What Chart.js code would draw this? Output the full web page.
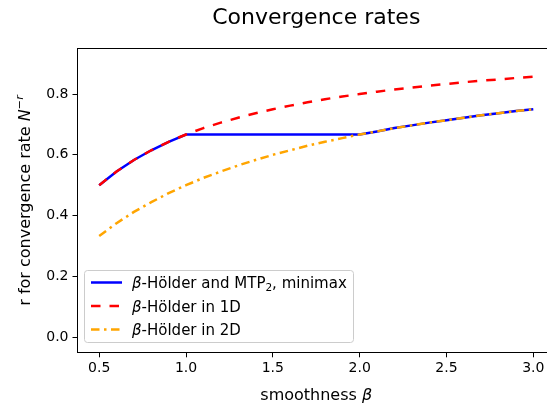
<!DOCTYPE html>
<html>
<head>
<meta charset="utf-8">
<script src="https://cdn.jsdelivr.net/npm/chart.js@4.4.1/dist/chart.umd.min.js"></script>
<style>
  html, body { margin: 0; padding: 0; background: #fff; overflow: hidden; }
  #wrap { width: 547px; height: 406px; overflow: hidden; }
</style>
</head>
<body>
<div id="wrap"><canvas id="chart" width="560" height="406"></canvas></div>
<script>
// smoothness values along the x axis
const betas = [0.5, 0.6, 0.7, 0.8, 0.9, 1.0, 1.1, 1.2, 1.3, 1.4, 1.5, 1.6, 1.7,
  1.8, 1.9, 2.0, 2.1, 2.2, 2.3, 2.4, 2.5, 2.6, 2.7, 2.8, 2.9, 3.0];

// rates
const minimaxRate = [0.500, 0.545, 0.583, 0.615, 0.643, 0.667, 0.667, 0.667, 0.667,
  0.667, 0.667, 0.667, 0.667, 0.667, 0.667, 0.667, 0.677, 0.688, 0.697, 0.706,
  0.714, 0.722, 0.730, 0.737, 0.744, 0.750];
const holder1D = [0.500, 0.545, 0.583, 0.615, 0.643, 0.667, 0.688, 0.706, 0.722,
  0.737, 0.750, 0.762, 0.773, 0.783, 0.792, 0.800, 0.808, 0.815, 0.821, 0.828,
  0.833, 0.839, 0.844, 0.848, 0.853, 0.857];
const holder2D = [0.333, 0.375, 0.412, 0.444, 0.474, 0.500, 0.524, 0.545, 0.565,
  0.583, 0.600, 0.615, 0.630, 0.643, 0.655, 0.667, 0.677, 0.688, 0.697, 0.706,
  0.714, 0.722, 0.730, 0.737, 0.744, 0.750];

const xTicks = [0.5, 1.0, 1.5, 2.0, 2.5, 3.0];
const yTicks = [0.0, 0.2, 0.4, 0.6, 0.8];

const FONT = '"DejaVu Sans"';
const toPoints = (ys) => betas.map((b, i) => ({ x: b, y: ys[i] }));

// legend rows: pieces of text, β in italics, MTP subscript
const legendRows = [
  [{ t: 'β', it: true }, { t: '-Hölder and MTP' }, { t: '2', sub: true }, { t: ', minimax' }],
  [{ t: 'β', it: true }, { t: '-Hölder in 1D' }],
  [{ t: 'β', it: true }, { t: '-Hölder in 2D' }],
];

function runFont(r, size) {
  const s = r.sub || r.sup ? size * 0.7 : size;
  return (r.it ? 'italic ' : '') + s + 'px ' + FONT;
}

// draws a list of text runs starting at x (or centred on x)
function drawRuns(ctx, runs, x, y, size, center) {
  let total = 0;
  runs.forEach(r => { ctx.font = runFont(r, size); total += ctx.measureText(r.t).width; });
  let cx = center ? x - total / 2 : x;
  ctx.textAlign = 'left';
  ctx.textBaseline = 'alphabetic';
  runs.forEach(r => {
    ctx.font = runFont(r, size);
    let dy = 0;
    if (r.sub) dy = size * 0.22;
    if (r.sup) dy = -size * 0.42;
    ctx.fillText(r.t, cx, y + dy);
    cx += ctx.measureText(r.t).width;
  });
}

const decorations = {
  id: 'decorations',
  afterDatasetsDraw(chart) {
    const { ctx, chartArea: a } = chart;
    ctx.save();
    // frame
    ctx.strokeStyle = '#000';
    ctx.lineWidth = 1;
    ctx.strokeRect(77.5, 48.5, a.right - 77.5, 352.5 - 48.5);

    // legend box
    const bx = 84.5, by = 270.5, bw = 269, bh = 72, rad = 3;
    ctx.beginPath();
    ctx.moveTo(bx + rad, by);
    ctx.arcTo(bx + bw, by, bx + bw, by + bh, rad);
    ctx.arcTo(bx + bw, by + bh, bx, by + bh, rad);
    ctx.arcTo(bx, by + bh, bx, by, rad);
    ctx.arcTo(bx, by, bx + bw, by, rad);
    ctx.closePath();
    ctx.fillStyle = 'rgba(255,255,255,0.8)';
    ctx.fill();
    ctx.strokeStyle = '#cccccc';
    ctx.stroke();

    const rowY = [282.5, 306, 329.5];
    chart.data.datasets.forEach((ds, i) => {
      ctx.beginPath();
      ctx.strokeStyle = ds.borderColor;
      ctx.lineWidth = ds.borderWidth;
      ctx.setLineDash(ds.borderDash || []);
      ctx.moveTo(91, rowY[i]);
      ctx.lineTo(122, rowY[i]);
      ctx.stroke();
      ctx.setLineDash([]);
      ctx.fillStyle = '#000';
      drawRuns(ctx, legendRows[i], 132, rowY[i] + 5.5, 15, false);
    });
    ctx.restore();
  },
  afterDraw(chart) {
    const { ctx } = chart;
    ctx.save();
    ctx.fillStyle = '#000';
    const midX = (77.5 + 555) / 2;
    drawRuns(ctx, [{ t: 'Convergence rates' }], midX, 24, 22, true);
    drawRuns(ctx, [{ t: 'smoothness ' }, { t: 'β', it: true }], midX, 400, 16, true);
    ctx.translate(29.5, 200.5);
    ctx.rotate(-Math.PI / 2);
    drawRuns(ctx, [{ t: 'r for convergence rate ' }, { t: 'N', it: true },
      { t: '−', sup: true }, { t: 'r', sup: true, it: true }], 0, 0, 16, true);
    ctx.restore();
  },
};

const tickFont = { family: FONT, size: 14 };

new Chart(document.getElementById('chart'), {
  type: 'line',
  data: {
    datasets: [
      {
        label: 'β-Hölder and MTP2, minimax',
        data: toPoints(minimaxRate),
        borderColor: '#0000ff',
        borderWidth: 2.5,
        order: 3,
      },
      {
        label: 'β-Hölder in 1D',
        data: toPoints(holder1D),
        borderColor: '#ff0000',
        borderWidth: 2.5,
        borderDash: [9.5, 9],
        order: 2,
      },
      {
        label: 'β-Hölder in 2D',
        data: toPoints(holder2D),
        borderColor: '#ffa500',
        borderWidth: 2.5,
        borderDash: [8.5, 4.5, 2.5, 4.5],
        order: 1,
      },
    ],
  },
  options: {
    responsive: false,
    animation: false,
    devicePixelRatio: 1,
    elements: { point: { radius: 0 }, line: { tension: 0, borderCapStyle: 'butt' } },
    layout: { padding: { top: 48.5, right: 5, left: 0, bottom: 0 } },
    plugins: { legend: { display: false }, tooltip: { enabled: false }, title: { display: false } },
    scales: {
      x: {
        type: 'linear',
        min: 0.375,
        max: 3.125,
        afterBuildTicks: (s) => { s.ticks = xTicks.map(v => ({ value: v })); },
        afterFit: (s) => { s.height = 406 - 352.3; },
        ticks: { color: '#000', font: tickFont, padding: 3, callback: v => v.toFixed(1) },
        grid: { drawOnChartArea: false, drawTicks: true, tickLength: 5, color: '#000' },
        border: { display: false },
      },
      y: {
        type: 'linear',
        min: -0.05,
        max: 0.95,
        afterBuildTicks: (s) => { s.ticks = yTicks.map(v => ({ value: v })); },
        afterFit: (s) => { s.width = 77.5; },
        ticks: { color: '#000', font: tickFont, padding: 4, callback: v => v.toFixed(1) },
        grid: { drawOnChartArea: false, drawTicks: true, tickLength: 5, color: '#000' },
        border: { display: false },
      },
    },
  },
  plugins: [decorations],
});
</script>
</body>
</html>
